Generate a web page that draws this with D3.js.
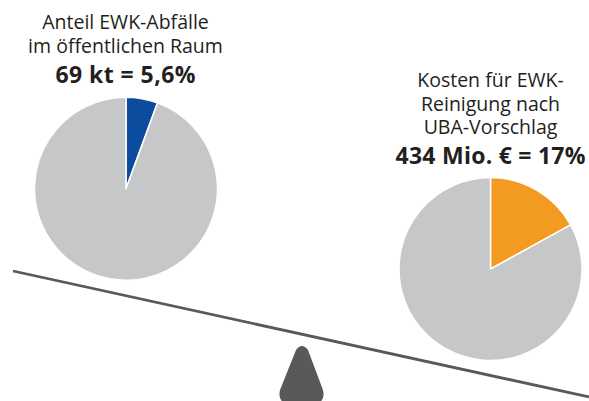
<!DOCTYPE html>
<html>
<head>
<meta charset="utf-8">
<script src="https://cdn.jsdelivr.net/npm/d3@7"></script>
<style>
  body { margin: 0; background: #fff; }
  text { font-family: "Open Sans", sans-serif; fill: #231f20; }
</style>
</head>
<body>
<div id="chart"></div>
<script>
// share of each pie (percent), first value is the highlighted slice
var leftValues = [5.6, 94.4];
var rightValues = [17, 83];
var leftTitle = ["Anteil EWK-Abfälle", "im öffentlichen Raum"];
var leftLabel = "69 kt = 5,6%";
var rightTitle = ["Kosten für EWK-", "Reinigung nach", "UBA-Vorschlag"];
var rightLabel = "434 Mio. € = 17%";

var width = 589, height = 401;

var svg = d3.select("#chart").append("svg")
    .attr("width", width)
    .attr("height", height);

// the beam of the scale
svg.append("line")
    .attr("x1", 13).attr("y1", 271)
    .attr("x2", 589).attr("y2", 397)
    .attr("stroke", "#58595b")
    .attr("stroke-width", 2.8);

// fulcrum
svg.append("path")
    .attr("d", "M296,350 Q302,342 308,350 L323,390 Q326,404 312,404 L291,404 Q277,404 280,390 Z")
    .attr("fill", "#58595b");

var pie = d3.pie().sort(null);
var arc = d3.arc().innerRadius(0).outerRadius(91.5);

function drawPie(cx, cy, values, colors) {
  var g = svg.append("g")
      .attr("transform", "translate(" + cx + "," + cy + ")");
  g.selectAll("path")
    .data(pie(values))
    .enter().append("path")
    .attr("d", arc)
    .attr("fill", (d, i) => colors[i])
    .attr("stroke", "#fff")
    .attr("stroke-width", 1.5)
    .attr("stroke-linejoin", "round");
}

function drawTitle(cx, y0, lines, label, labelY, labelW) {
  var t = svg.append("g");
  lines.forEach(function(s, i) {
    t.append("text")
      .attr("x", cx).attr("y", y0 + i * 23.5)
      .attr("text-anchor", "middle")
      .attr("font-size", 19.5)
      .text(s);
  });
  t.append("text")
    .attr("x", cx).attr("y", labelY)
    .attr("text-anchor", "middle")
    .attr("font-size", 23)
    .attr("font-weight", "bold")
    .attr("textLength", labelW)
    .attr("lengthAdjust", "spacing")
    .text(label);
}

drawPie(126, 188.7, leftValues, ["#0b4c9e", "#c6c7c9"]);
drawPie(490.5, 269, rightValues, ["#f29b20", "#c6c7c9"]);

drawTitle(125.5, 29, leftTitle, leftLabel, 83, 140);
drawTitle(490.5, 87, rightTitle, rightLabel, 163.5, 190);
</script>
</body>
</html>
